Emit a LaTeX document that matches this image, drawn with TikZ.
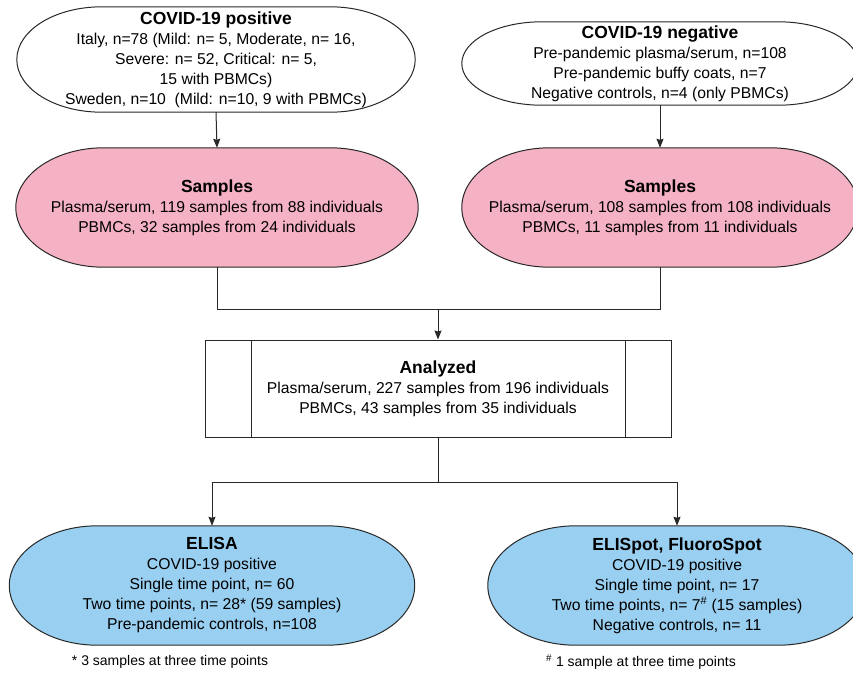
\documentclass[tikz,border=0pt]{standalone}
\usepackage{fontspec}
\setmainfont{Liberation Sans}
\usepackage{xcolor}
\usetikzlibrary{arrows.meta, calc, backgrounds}
\definecolor{samplepink}{RGB}{245,178,196}
\definecolor{assayblue}{RGB}{153,207,240}
\definecolor{linegray}{RGB}{40,40,40}
\tikzstyle{arrow} = [line width=1pt, draw=linegray, -{Stealth[length=9pt,width=7pt,inset=1pt]}]
\tikzstyle{link} = [line width=1pt, draw=linegray]
\tikzstyle{box} = [inner sep=0pt, align=center, font=\fontsize{15.7}{20}\selectfont]
\tikzstyle{note} = [inner sep=0pt, font=\fontsize{14}{16}\selectfont]
\newcommand{\headline}[1]{{\fontsize{17.5}{20}\selectfont\bfseries #1}}
% capsule outline round a node: name, end radius, fill colour
\newcommand{\capsule}[3]{%
  \draw[link, fill=#3] ([xshift=#2]#1.north west) -- ([xshift=-#2]#1.north east)
    .. controls ([xshift=-0.448*#2]#1.north east) and ($(#1.east)!0.552!(#1.north east)$) .. (#1.east)
    .. controls ($(#1.east)!0.552!(#1.south east)$) and ([xshift=-0.448*#2]#1.south east) .. ([xshift=-#2]#1.south east)
    -- ([xshift=#2]#1.south west)
    .. controls ([xshift=0.448*#2]#1.south west) and ($(#1.west)!0.552!(#1.south west)$) .. (#1.west)
    .. controls ($(#1.west)!0.552!(#1.north west)$) and ([xshift=0.448*#2]#1.north west) .. ([xshift=#2]#1.north west)
    -- cycle;}

\begin{document}
\begin{tikzpicture}[x=1pt, y=-1pt]
    \clip (0,0) rectangle (853,672);

    % Cohorts
    \node (pos) [box, minimum width=398pt, minimum height=105pt] at (216,59.5)
        {\headline{COVID-19 positive}\\
         Italy, n=78 (Mild: n= 5, Moderate, n= 16,\\
         Severe: n= 52, Critical: n= 5,\\
         15 with PBMCs)\\
         Sweden, n=10\ \ (Mild: n=10, 9 with PBMCs)};
    \node (neg) [box, minimum width=396pt, minimum height=83pt] at (660,63.5)
        {\headline{COVID-19 negative}\\
         Pre-pandemic plasma/serum, n=108\\
         Pre-pandemic buffy coats, n=7\\
         Negative controls, n=4 (only PBMCs)};

    % Samples
    \node (sampos) [box, minimum width=402pt, minimum height=119pt] at (217,207.5)
        {\headline{Samples}\\
         Plasma/serum, 119 samples from 88 individuals\\
         PBMCs, 32 samples from 24 individuals};
    \node (samneg) [box, minimum width=396pt, minimum height=119pt] at (660,207.5)
        {\headline{Samples}\\
         Plasma/serum, 108 samples from 108 individuals\\
         PBMCs, 11 samples from 11 individuals};

    % Analyzed
    \node (ana) [box, draw=linegray, line width=1pt, fill=white, minimum width=466pt, minimum height=97pt] at (438,388.5)
        {\headline{Analyzed}\\
         Plasma/serum, 227 samples from 196 individuals\\
         PBMCs, 43 samples from 35 individuals};
    \draw[link] ([xshift=47pt]ana.north west) -- ([xshift=47pt]ana.south west);
    \draw[link] ([xshift=-46pt]ana.north east) -- ([xshift=-46pt]ana.south east);

    % Assays
    \node (elisa) [box, minimum width=405pt, minimum height=119pt] at (212,585.5)
        {\headline{ELISA}\\
         COVID-19 positive\\
         Single time point, n= 60\\
         Two time points, n= 28* (59 samples)\\
         Pre-pandemic controls, n=108};
    \node (spot) [box, minimum width=378pt, minimum height=119pt] at (677,585.5)
        {\headline{ELISpot, FluoroSpot}\\
         COVID-19 positive\\
         Single time point, n= 17\\
         Two time points, n= 7\textsuperscript{\#} (15 samples)\\
         Negative controls, n= 11};

    \node (fna) [note] at (170,662) {* 3 samples at three time points};
    \node (fnb) [note] at (641,662) {\textsuperscript{\#} 1 sample at three time points};

    \begin{scope}[on background layer]
        \capsule{pos}{85pt}{white}
        \capsule{neg}{80pt}{white}
        \capsule{sampos}{88pt}{samplepink}
        \capsule{samneg}{88pt}{samplepink}
        \capsule{elisa}{88pt}{assayblue}
        \capsule{spot}{88pt}{assayblue}
    \end{scope}

    % Edges
    \coordinate (join) at (438,309);
    \coordinate (split) at (438,482);
    \draw[arrow] (pos.south) -- (sampos.north);
    \draw[arrow] (neg.south) -- (samneg.north);
    \draw[link] (sampos.south) |- (join);
    \draw[link] (samneg.south) |- (join);
    \draw[arrow] (join) -- (ana.north);
    \draw[link] (ana.south) -- (split);
    \draw[arrow] (split) -| (elisa.north);
    \draw[arrow] (split) -| (spot.north);
\end{tikzpicture}
\end{document}
